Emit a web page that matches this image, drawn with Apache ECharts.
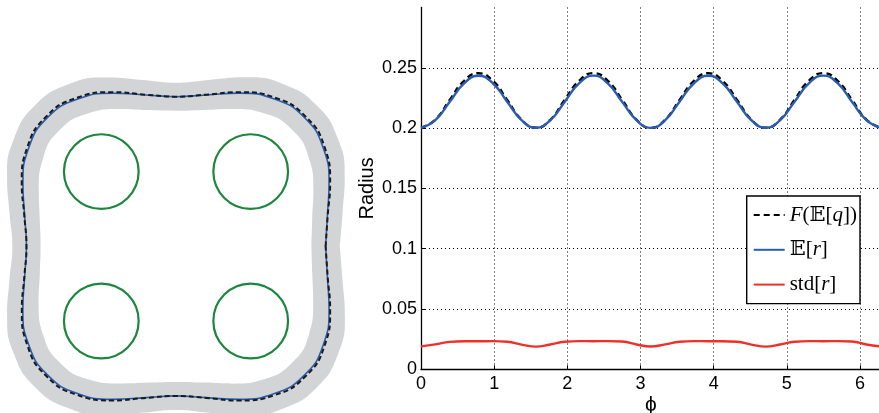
<!DOCTYPE html>
<html>
<head>
<meta charset="utf-8">
<script src="https://cdn.jsdelivr.net/npm/echarts@6/dist/echarts.min.js"></script>
<style>html,body{margin:0;padding:0;background:#fff;}#c{width:879px;height:413px;}</style>
</head>
<body>
<div id="c"></div>
<script>
// ---- data ----
const phi = [0, 0.196, 0.393, 0.589, 0.785, 0.982, 1.178, 1.374, 1.571, 1.767, 1.963, 2.160, 2.356, 2.553, 2.749, 2.945, 3.142, 3.338, 3.534, 3.731, 3.927, 4.123, 4.320, 4.516, 4.712, 4.909, 5.105, 5.301, 5.498, 5.694, 5.890, 6.087, 6.283];
const meanR = [0.2003, 0.2066, 0.2218, 0.2371, 0.2434, 0.2372, 0.2219, 0.2066, 0.2003, 0.2065, 0.2217, 0.2370, 0.2435, 0.2371, 0.2218, 0.2066, 0.2002, 0.2066, 0.2219, 0.2372, 0.2434, 0.2371, 0.2217, 0.2065, 0.2003, 0.2066, 0.2218, 0.2371, 0.2435, 0.2372, 0.2218, 0.2066, 0.2003];
const fMeanQ = [0.2003, 0.2070, 0.2234, 0.2392, 0.2455, 0.2392, 0.2234, 0.2070, 0.2003, 0.2069, 0.2233, 0.2391, 0.2456, 0.2392, 0.2235, 0.2070, 0.2002, 0.2070, 0.2234, 0.2392, 0.2455, 0.2391, 0.2233, 0.2069, 0.2003, 0.2070, 0.2234, 0.2392, 0.2456, 0.2392, 0.2234, 0.2070, 0.2003];
const stdR = [0.0190, 0.0207, 0.0227, 0.0233, 0.0232, 0.0234, 0.0229, 0.0205, 0.0188, 0.0206, 0.0228, 0.0234, 0.0233, 0.0234, 0.0230, 0.0206, 0.0189, 0.0207, 0.0228, 0.0234, 0.0233, 0.0233, 0.0229, 0.0205, 0.0188, 0.0206, 0.0228, 0.0234, 0.0233, 0.0234, 0.0230, 0.0206, 0.0190];
// obstacle circles (centre x, centre y, radius) in shape units
const circleX = [-0.1, 0.1, -0.1, 0.1];
const circleY = [0.1, 0.1, -0.1, -0.1];
const circleR = [0.05, 0.05, 0.05, 0.05];
const yTicks = [0, 0.05, 0.1, 0.15, 0.2, 0.25];
const xTicks = [0, 1, 2, 3, 4, 5, 6];
const seriesNames = ['F(𝔼[q])', '𝔼[r]', 'std[r]'];

// ---- derived ----
const TWO_PI = phi[phi.length - 1];
const xy = (ys) => phi.map((p, i) => [p, ys[i]]);
const polarPts = (rs) => phi.map((p, i) => [rs[i], p]);
const outer = meanR.map((m, i) => m + stdR[i]);
const inner = meanR.map((m, i) => m - stdR[i]);
const circles = circleX.map((x, i) => [x, circleY[i], circleR[i]]);

const BLUE = '#2a5db0', RED = '#ec3228', GREEN = '#1b873d', GRAY = '#d3d4d6';
const FONT = '"Liberation Sans", Arial, Helvetica, sans-serif';
const MATH = '"Liberation Serif", "DejaVu Serif", serif';

// shape geometry (pixels) for the left panel
const SCALE = 747, CX = 176, CY = 246.3, HALF = 0.22;

const chart = echarts.init(document.getElementById('c'), null, {renderer: 'canvas'});
chart.setOption({
  animation: false,
  backgroundColor: '#fff',
  polar: {center: [CX, CY], radius: 0.3 * SCALE},
  angleAxis: {type: 'value', min: 0, max: TWO_PI, startAngle: 0, clockwise: false, show: false,
    axisLine: {show: false}, axisTick: {show: false}, axisLabel: {show: false}, splitLine: {show: false}},
  radiusAxis: {type: 'value', min: 0, max: 0.3, show: false,
    axisLine: {show: false}, axisTick: {show: false}, axisLabel: {show: false}, splitLine: {show: false}},
  grid: [
    {left: CX - HALF * SCALE, top: CY - HALF * SCALE, width: 2 * HALF * SCALE, height: 2 * HALF * SCALE,
      show: false, outerBoundsMode: 'none'},
    {left: 421, top: 7.5, width: 459.7, height: 361.8, show: false, outerBoundsMode: 'none', containLabel: false}
  ],
  xAxis: [
    {gridIndex: 0, type: 'value', min: -HALF, max: HALF, show: false},
    {gridIndex: 1, type: 'value', min: 0, max: TWO_PI, interval: 1,
      name: 'ϕ', nameLocation: 'middle', nameGap: 25, nameMoveOverlap: false,
      nameTextStyle: {fontFamily: FONT, fontSize: 21, color: '#000'},
      axisLine: {show: true, onZero: false, lineStyle: {color: '#000', width: 1.3}},
      axisTick: {show: true, inside: true, length: 4, lineStyle: {color: '#000'}},
      axisLabel: {show: true, showMaxLabel: false, margin: 6, fontFamily: FONT, fontSize: 18, color: '#000',
        formatter: (v) => (xTicks.indexOf(v) >= 0 ? String(v) : '')},
      splitLine: {show: true, showMinLine: false, showMaxLine: false, lineStyle: {color: '#000', width: 1, type: [1, 3]}}}
  ],
  yAxis: [
    {gridIndex: 0, type: 'value', min: -HALF, max: HALF, show: false},
    {gridIndex: 1, type: 'value', min: 0, max: 0.3, interval: 0.05,
      name: 'Radius', nameLocation: 'middle', nameGap: 44, nameMoveOverlap: false,
      nameTextStyle: {fontFamily: FONT, fontSize: 20, color: '#000'},
      axisLine: {show: true, onZero: false, lineStyle: {color: '#000', width: 1.3}},
      axisTick: {show: true, inside: true, length: 4, lineStyle: {color: '#000'}},
      axisLabel: {show: true, showMaxLabel: false, margin: 4, fontFamily: FONT, fontSize: 18, color: '#000',
        formatter: (v) => { const t = yTicks.find(k => Math.abs(k - v) < 1e-9); return t === undefined ? '' : String(t); }},
      splitLine: {show: true, showMinLine: false, showMaxLine: false, lineStyle: {color: '#000', width: 1, type: [1, 3]}}}
  ],
  legend: {
    data: seriesNames,
    orient: 'vertical', left: 746.7, top: 196,
    itemWidth: 31, itemHeight: 14, itemGap: 12.8,
    padding: [8, 3, 8, 6], backgroundColor: '#fff', borderColor: '#000', borderWidth: 1.4, borderRadius: 0,
    selectedMode: false,
    itemStyle: {color: 'rgba(0,0,0,0)', borderColor: 'rgba(0,0,0,0)', borderWidth: 0, opacity: 0},
    formatter: (n) => {
      if (n === seriesNames[0]) return '{i|F}{n|(𝔼[}{i|q}{n|])}';
      if (n === seriesNames[1]) return '{n|𝔼[}{i|r}{n|]}';
      return '{n|std[}{i|r}{n|]}';
    },
    textStyle: {
      fontFamily: MATH, fontSize: 21, color: '#000', lineHeight: 22,
      rich: {
        i: {fontFamily: MATH, fontStyle: 'italic', fontSize: 21, color: '#000', lineHeight: 22},
        n: {fontFamily: MATH, fontSize: 21, color: '#000', lineHeight: 22}
      }
    }
  },
  series: [
    // ---- left panel: shape in polar coordinates ----
    {name: 'band-outer', type: 'line', coordinateSystem: 'polar', data: polarPts(outer), smooth: 0.5,
      symbol: 'none', lineStyle: {width: 0, color: GRAY}, areaStyle: {color: GRAY, opacity: 1}, z: 1, silent: true},
    {name: 'band-inner', type: 'line', coordinateSystem: 'polar', data: polarPts(inner), smooth: 0.5,
      symbol: 'none', lineStyle: {width: 0, color: '#fff'}, areaStyle: {color: '#fff', opacity: 1}, z: 1, silent: true},
    {name: 'circles', type: 'custom', xAxisIndex: 0, yAxisIndex: 0, data: circles, z: 3, silent: true,
      renderItem: (params, api) => {
        const c = api.coord([api.value(0), api.value(1)]);
        const r = api.size([api.value(2), api.value(2)])[0];
        return {type: 'circle', shape: {cx: c[0], cy: c[1], r: r},
          style: {fill: 'none', stroke: GREEN, lineWidth: 2.2}};
      }},
    {name: 'shape-mean', type: 'line', coordinateSystem: 'polar', data: polarPts(meanR), smooth: 0.5,
      symbol: 'none', lineStyle: {width: 1.6, color: BLUE}, z: 3, silent: true},
    {name: 'shape-F', type: 'line', coordinateSystem: 'polar', data: polarPts(fMeanQ), smooth: 0.5,
      symbol: 'none', lineStyle: {width: 2, color: '#1a1a1a', type: [5, 3]}, z: 4, silent: true},
    // ---- right panel ----
    {name: seriesNames[0], type: 'line', xAxisIndex: 1, yAxisIndex: 1, data: xy(fMeanQ), smooth: 0.5,
      symbol: 'none', lineStyle: {width: 2.4, color: '#000', type: [6, 4]}, itemStyle: {color: '#000'}, z: 3},
    {name: seriesNames[1], type: 'line', xAxisIndex: 1, yAxisIndex: 1, data: xy(meanR), smooth: 0.5,
      symbol: 'none', lineStyle: {width: 2.4, color: BLUE}, itemStyle: {color: BLUE}, z: 4},
    {name: seriesNames[2], type: 'line', xAxisIndex: 1, yAxisIndex: 1, data: xy(stdR), smooth: 0.5,
      symbol: 'none', lineStyle: {width: 2.4, color: RED}, itemStyle: {color: RED}, z: 4}
  ]
});
</script>
</body>
</html>
